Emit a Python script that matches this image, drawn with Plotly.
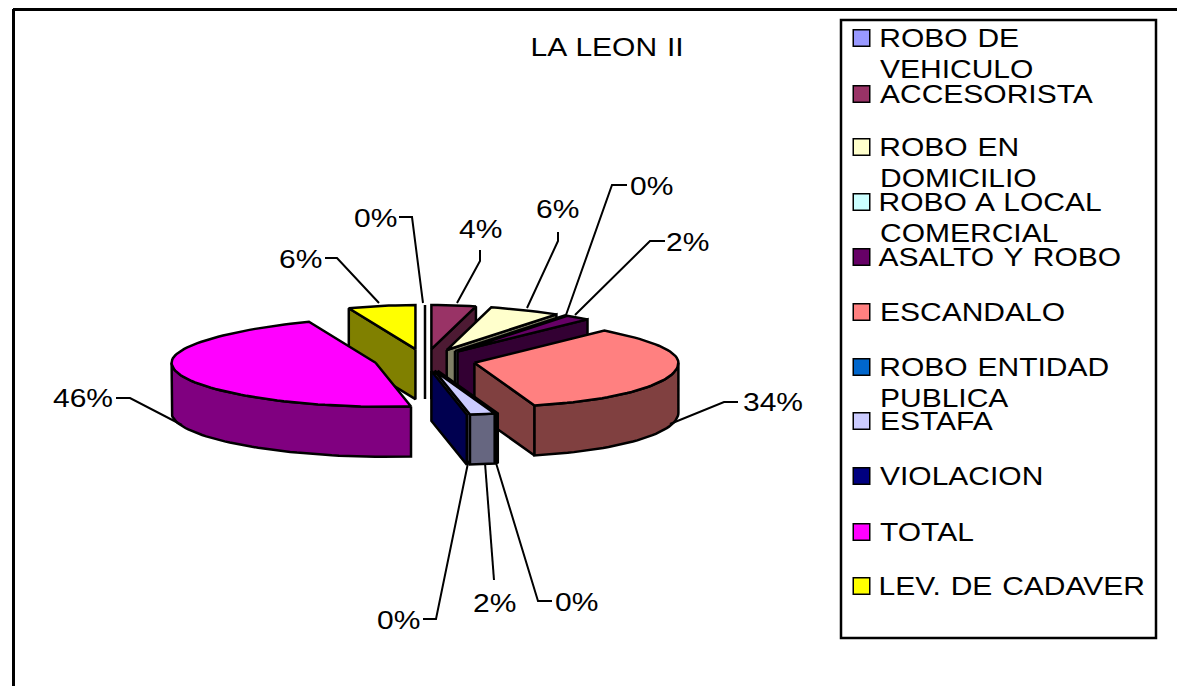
import math
import plotly.graph_objects as go

# ---- data ----
categories = ["ROBO DE VEHICULO", "ACCESORISTA", "ROBO EN DOMICILIO", "ROBO A LOCAL COMERCIAL",
              "ASALTO Y ROBO", "ESCANDALO", "ROBO ENTIDAD PUBLICA", "ESTAFA", "VIOLACION",
              "TOTAL", "LEV. DE CADAVER"]
values = [0, 4, 6, 0, 2, 34, 0, 2, 0, 46, 6]
title_text = "LA LEON II"

# ---- styles ----
top_colors = ["#9999FF", "#993366", "#FFFFCC", "#CCFFFF", "#660066", "#FF8080",
              "#0066CC", "#CCCCFF", "#000080", "#FF00FF", "#FFFF00"]
side_colors = ["#4D4D80", "#4D1A33", "#808066", "#668080", "#330033", "#804040",
               "#000000", "#666680", "#000050", "#800080", "#808000"]

# ---- layout of the page (pixels) ----
W, H = 1177, 686
CX, CY = 425.0, 360.0
R, K, EXPLODE, DEPTH = 204.0, 0.216, 51.0, 50.0
FONT = "Liberation Sans"
FS = 25

legend_lines = [["ROBO DE", "VEHICULO"], ["ACCESORISTA"], ["ROBO EN", "DOMICILIO"],
                ["ROBO A LOCAL", "COMERCIAL"], ["ASALTO Y ROBO"], ["ESCANDALO"],
                ["ROBO ENTIDAD", "PUBLICA"], ["ESTAFA"], ["VIOLACION"], ["TOTAL"],
                ["LEV. DE CADAVER"]]
legend_y = [38, 94, 147, 202, 257, 312, 367, 421, 476, 532, 586]
LEGEND_LINE_GAP = 31

# label left edge, label middle y, leader polyline
label_pos = [
    (354, 218, [(399, 217), (412, 217), (423, 303)]),
    (459, 229, [(480, 250), (480, 261), (457, 303)]),
    (536, 209, [(558, 232), (558, 241), (527, 308)]),
    (630, 186, [(627, 185), (612, 185), (566, 315)]),
    (666, 242, [(665, 241), (650, 241), (575, 315)]),
    (743, 402, [(738, 402), (724, 402), (670, 424)]),
    (555, 602, [(552, 601), (538, 601), (496, 463)]),
    (473, 603, [(494, 580), (485, 463)]),
    (377, 620, [(423, 619), (436, 619), (468, 463)]),
    (53, 398, [(116, 398), (130, 398), (182, 425)]),
    (279, 259, [(325, 258), (337, 258), (379, 303)]),
]


def project(tip, deg, depth=0.0):
    t = math.radians(deg)
    s, c = math.sin(t), math.cos(t)
    rx = R * (1 - 0.13 * max(c, 0) ** 2)
    return (tip[0] + rx * s + 10 * max(-c, 0) ** 2,
            tip[1] - K * R * c + depth)


def poly(fig, pts, color, name):
    fig.add_trace(go.Scatter(
        x=[p[0] for p in pts] + [pts[0][0]],
        y=[p[1] for p in pts] + [pts[0][1]],
        mode="lines", fill="toself", fillcolor=color, name=name,
        line=dict(color="black", width=2.5), hoverinfo="skip", showlegend=False))


def arc(tip, a, b, depth=0.0):
    n = max(2, int(abs(b - a) / 2) + 1)
    return [project(tip, a + (b - a) * i / (n - 1), depth) for i in range(n)]


fig = go.Figure()

# slice angles, clockwise from the top
total = sum(values)
slices = []
cum = 0.0
for i, v in enumerate(values):
    a = cum / total * 360
    cum += v
    b = cum / total * 360
    mid = math.radians((a + b) / 2)
    tip = (CX + EXPLODE * math.sin(mid), CY - EXPLODE * K * math.cos(mid))
    slices.append(dict(i=i, a=a, b=b, mid=mid, tip=tip))

# painter's order: back to front
for sl in sorted(slices, key=lambda d: -math.cos(d["mid"])):
    i, a, b, tip = sl["i"], sl["a"], sl["b"], sl["tip"]
    name = categories[i]
    side = side_colors[i]
    low = (tip[0], tip[1] + DEPTH)
    if a == b:
        poly(fig, [tip, project(tip, a), project(tip, a, DEPTH), low], side, name)
        continue
    if math.sin(math.radians(a)) < -1e-9:
        poly(fig, [tip, project(tip, a), project(tip, a, DEPTH), low], side, name)
    if math.sin(math.radians(b)) > 1e-9:
        poly(fig, [tip, project(tip, b), project(tip, b, DEPTH), low], side, name)
    fa, fb = max(a, 90), min(b, 270)
    if fa < fb:
        poly(fig, arc(tip, fa, fb) + arc(tip, fb, fa, DEPTH), side, name)
    poly(fig, [tip] + arc(tip, a, b), top_colors[i], name)

# legend swatches
fig.add_trace(go.Scatter(
    x=[861.5] * len(categories), y=legend_y, mode="markers", hoverinfo="skip", showlegend=False,
    marker=dict(symbol="square", size=16.5, color=top_colors, line=dict(color="black", width=1.5))))

shapes = [
    dict(type="rect", x0=841, x1=1156, y0=20, y1=638, line=dict(color="black", width=2.5)),
    dict(type="line", x0=13, x1=W, y0=9.5, y1=9.5, line=dict(color="black", width=3)),
    dict(type="line", x0=13.5, x1=13.5, y0=9, y1=H, line=dict(color="black", width=3)),
]
annotations = []


def text(x, y, s):
    annotations.append(dict(x=x, y=y, text=s, xref="x", yref="y", xanchor="left", yanchor="middle",
                            showarrow=False, borderpad=0, borderwidth=0,
                            font=dict(family=FONT, size=FS, color="black")))


text(532, 47, title_text)
for v, (lx, ly, leader) in zip(values, label_pos):
    text(lx, ly, f"{round(v)}%")
    path = "M" + " L".join(f"{px},{py}" for px, py in leader)
    shapes.append(dict(type="path", path=path, line=dict(color="black", width=2)))
for y0, lines in zip(legend_y, legend_lines):
    for j, s in enumerate(lines):
        text(880, y0 + j * LEGEND_LINE_GAP, s)

fig.update_layout(
    width=W, height=H, margin=dict(l=0, r=0, t=0, b=0),
    paper_bgcolor="white", plot_bgcolor="white", showlegend=False,
    xaxis=dict(range=[0, W], visible=False, fixedrange=True),
    yaxis=dict(range=[H, 0], visible=False, fixedrange=True),
    shapes=shapes, annotations=annotations,
    font=dict(family=FONT, size=FS),
)

# The source text is horizontally stretched by about 1.2: apply it to the real text.
post = """
document.body.style.margin='0';
document.querySelectorAll('.annotation-text').forEach(function(t){
  var b=t.getBBox();
  var sp=(b.x>850)?4:1.3;
  t.style.wordSpacing=sp+'px';
  t.setAttribute('transform','translate('+b.x+',0) scale(1.2,1) translate('+(-b.x)+',0)');
});
"""
fig.write_html("out.html", post_script=post, config=dict(displayModeBar=False))
